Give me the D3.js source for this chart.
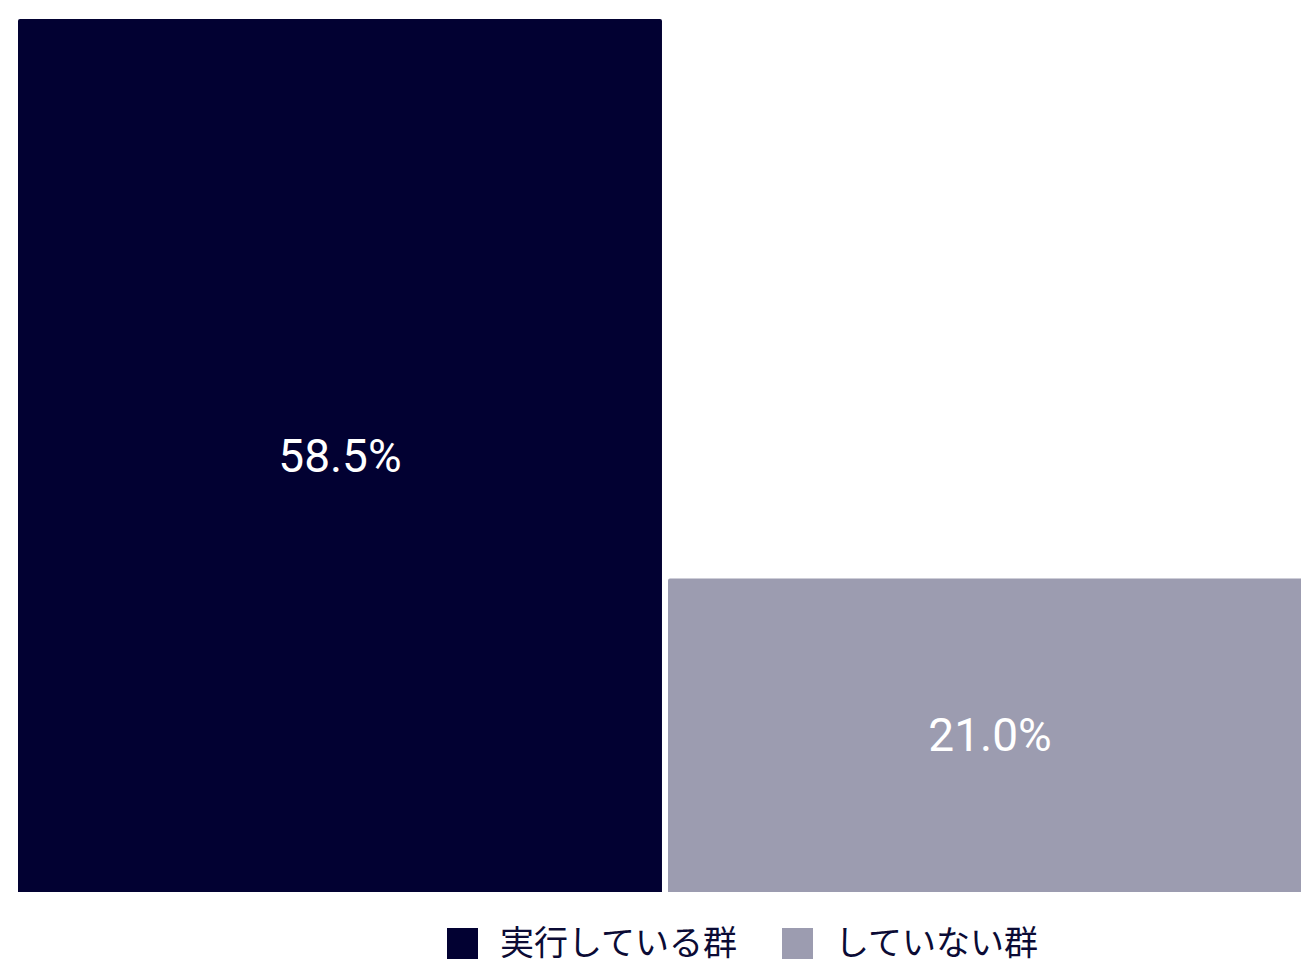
<!DOCTYPE html>
<html>
<head>
<meta charset="utf-8">
<script src="https://cdn.jsdelivr.net/npm/d3@7"></script>
<style>
  html, body { margin: 0; padding: 0; background: #ffffff; }
  svg { display: block; }
</style>
</head>
<body>
<svg id="chart" width="1301" height="967"></svg>
<script>
// Share of each group (percent)
const categories = ["実行している群", "していない群"];
const values = [58.5, 21.0];
const colors = ["#020132", "#9c9cb0"];

const svg = d3.select("#chart");

const x = d3.scaleBand()
  .domain(categories)
  .range([18, 1312])
  .paddingInner(0.0093)
  .paddingOuter(0);

const y = d3.scaleLinear()
  .domain([0, 58.5])
  .range([892, 19]);

const color = d3.scaleOrdinal().domain(categories).range(colors);

const data = categories.map((c, i) => ({ cat: c, value: values[i] }));

// Bars (slightly rounded top corners)
svg.append("g")
  .selectAll("path")
  .data(data)
  .join("path")
  .attr("fill", d => color(d.cat))
  .attr("d", d => {
    const x0 = x(d.cat), w = x.bandwidth();
    const y0 = y(d.value), y1 = y(0), r = 2;
    return `M${x0},${y1}V${y0 + r}Q${x0},${y0} ${x0 + r},${y0}H${x0 + w - r}Q${x0 + w},${y0} ${x0 + w},${y0 + r}V${y1}Z`;
  });

// Value labels centred in each bar
svg.append("g")
  .selectAll("text")
  .data(data)
  .join("text")
  .attr("x", d => x(d.cat) + x.bandwidth() / 2)
  .attr("y", d => (y(d.value) + y(0)) / 2)
  .attr("dy", "0.35em")
  .attr("text-anchor", "middle")
  .attr("fill", "#ffffff")
  .style("font-family", "Roboto, 'Noto Sans', sans-serif")
  .style("font-size", "46px")
  .text(d => d.value.toFixed(1) + "%");

// Legend
const legendItems = [
  { cat: categories[0], sx: 447, tx: 500 },
  { cat: categories[1], sx: 782, tx: 835 }
];
const legend = svg.append("g");
legend.selectAll("rect")
  .data(legendItems)
  .join("rect")
  .attr("x", d => d.sx)
  .attr("y", 928)
  .attr("width", 31)
  .attr("height", 31)
  .attr("fill", d => color(d.cat));
legend.selectAll("text")
  .data(legendItems)
  .join("text")
  .attr("x", d => d.tx)
  .attr("y", 955)
  .attr("fill", "#0b0b35")
  .style("font-family", "'Noto Sans CJK JP', sans-serif")
  .style("font-size", "34px")
  .text(d => d.cat);
</script>
</body>
</html>
